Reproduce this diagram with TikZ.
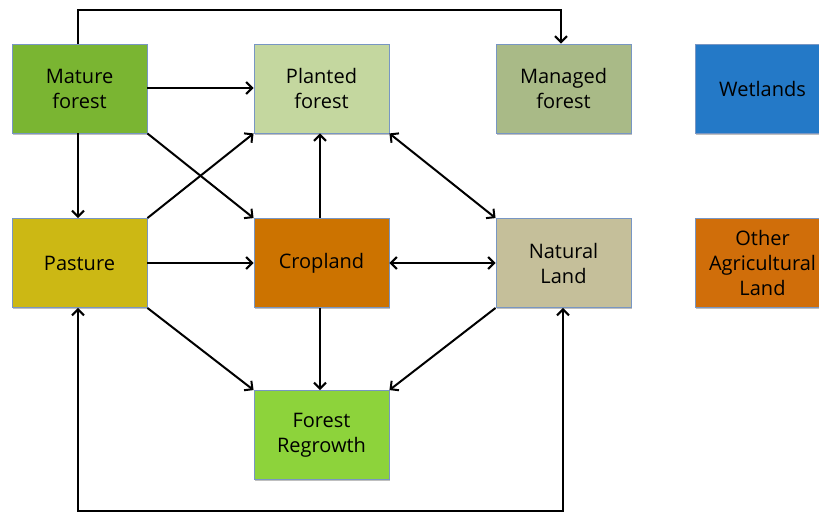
\documentclass[tikz,border=0pt]{standalone}
\usepackage{fontspec}
\setmainfont{Open Sans}
\usetikzlibrary{arrows.meta,shadows}
\definecolor{cMature}{RGB}{122,181,50}
\definecolor{cPlanted}{RGB}{196,215,159}
\definecolor{cManaged}{RGB}{169,186,135}
\definecolor{cWet}{RGB}{36,121,199}
\definecolor{cPasture}{RGB}{204,184,20}
\definecolor{cCrop}{RGB}{204,115,0}
\definecolor{cNatural}{RGB}{197,191,154}
\definecolor{cOther}{RGB}{208,110,10}
\definecolor{cRegrowth}{RGB}{141,211,59}
\definecolor{cBorder}{RGB}{120,150,195}
\tikzset{
  landbox/.style={draw=cBorder, line width=0.9pt, minimum width=135pt, minimum height=89pt,
    inner sep=0pt, align=center, font=\fontsize{20}{25}\selectfont,
    drop shadow={shadow xshift=1pt, shadow yshift=-1.5pt, opacity=0.25, fill=black}},
  flow/.style={line width=2pt, ->, >={Straight Barb[length=6pt,width=12pt]}},
  flow2/.style={flow, <->}
}
\begin{document}
\begin{tikzpicture}[x=1pt,y=-1pt]
\useasboundingbox (0,0) rectangle (819,514);
\node[landbox, fill=cMature] (mature) at (79.5,88.5) {Mature\\forest};
\node[landbox, fill=cPlanted] (planted) at (321.5,88.5) {Planted\\forest};
\node[landbox, fill=cManaged] (managed) at (563.5,88.5) {Managed\\forest};
\node[landbox, fill=cWet] (wet) at (762.5,88.5) {Wetlands};
\node[landbox, fill=cPasture] (pasture) at (79.5,263) {Pasture};
\node[landbox, fill=cCrop] (crop) at (321.5,263) {Cropland};
\node[landbox, fill=cNatural] (natural) at (563.5,263) {Natural\\Land};
\node[landbox, fill=cOther] (other) at (762.5,263) {Other\\Agricultural\\Land};
\node[landbox, fill=cRegrowth] (regrowth) at (321.5,435) {Forest\\Regrowth};
\coordinate (topL) at (78,10);
\coordinate (topR) at (561,10);
\coordinate (botL) at (78,511);
\coordinate (botR) at (563,511);
\coordinate (midA) at (0,88);
\coordinate (midB) at (0,263);
\coordinate (colC) at (320,0);
\draw[flow] (mature.north -| topL) -- (topL) -- (topR) -- (managed.north -| topR);
\draw[flow] (mature.east |- midA) -- (planted.west |- midA);
\draw[flow] (mature.south -| topL) -- (pasture.north -| topL);
\draw[flow] (mature.south east) -- (crop.north west);
\draw[flow] (pasture.north east) -- (planted.south west);
\draw[flow] (pasture.east |- midB) -- (crop.west |- midB);
\draw[flow] (crop.north -| colC) -- (planted.south -| colC);
\draw[flow2] (planted.south east) -- (natural.north west);
\draw[flow2] (crop.east |- midB) -- (natural.west |- midB);
\draw[flow] (crop.south -| colC) -- (regrowth.north -| colC);
\draw[flow] (pasture.south east) -- (regrowth.north west);
\draw[flow] (natural.south west) -- (regrowth.north east);
\draw[flow2] (pasture.south -| botL) -- (botL) -- (botR) -- (natural.south -| botR);
\end{tikzpicture}
\end{document}
